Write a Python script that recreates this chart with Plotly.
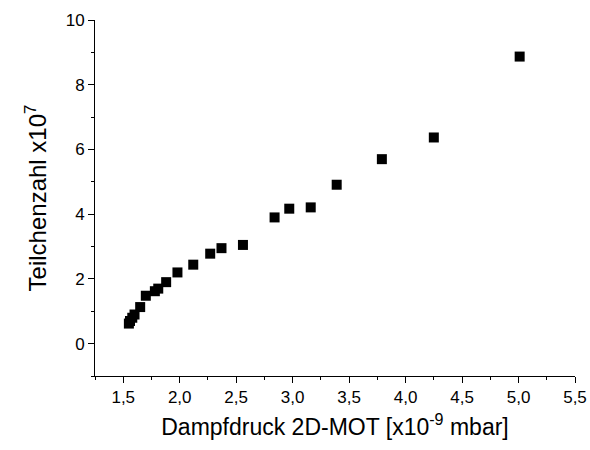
import plotly.graph_objects as go

# Dampfdruck 2D-MOT [x10^-9 mbar]
pressure = [1.55, 1.56, 1.58, 1.60, 1.65, 1.70, 1.78, 1.81, 1.88, 1.98,
            2.12, 2.27, 2.37, 2.56, 2.84, 2.97, 3.16, 3.39, 3.79, 4.25, 5.01]
# Teilchenzahl x10^7
particles = [0.62, 0.70, 0.80, 0.90, 1.13, 1.48, 1.62, 1.70, 1.90, 2.20,
             2.44, 2.78, 2.95, 3.05, 3.90, 4.17, 4.21, 4.91, 5.70, 6.37, 8.87]

fig = go.Figure()
fig.add_trace(go.Scatter(
    x=pressure, y=particles, mode="markers",
    marker=dict(symbol="square", size=10, color="black", line=dict(width=0)),
    showlegend=False,
))

font = "Liberation Sans, Arial, sans-serif"
fig.update_layout(
    width=590, height=450,
    margin=dict(l=95, r=15, t=20, b=74, autoexpand=False),
    plot_bgcolor="white", paper_bgcolor="white",
    separators=",.",
    font=dict(family=font, size=17, color="black"),
    xaxis=dict(
        range=[1.25, 5.5], tick0=1.5, dtick=0.5, tickformat=".1f",
        automargin=False,
        showline=True, linecolor="black", linewidth=1, mirror=False,
        ticks="outside", ticklen=6, tickwidth=1, tickcolor="black",
        minor=dict(dtick=0.25, tick0=1.25, ticks="outside", ticklen=3, tickcolor="black"),
        showgrid=False, zeroline=False,
        title=dict(text="Dampfdruck 2D-MOT [x10<sup>-9</sup> mbar]",
                   font=dict(size=23, family=font), standoff=12),
    ),
    yaxis=dict(
        range=[-1, 10], tick0=0, dtick=2,
        automargin=False,
        showline=True, linecolor="black", linewidth=1, mirror=False,
        ticks="outside", ticklen=6, tickwidth=1, tickcolor="black",
        minor=dict(dtick=1, tick0=-1, ticks="outside", ticklen=3, tickcolor="black"),
        showgrid=False, zeroline=False,
        title=dict(text="Teilchenzahl x10<sup>7</sup>",
                   font=dict(size=24, family=font), standoff=12),
    ),
)

fig.write_html("out.html")
